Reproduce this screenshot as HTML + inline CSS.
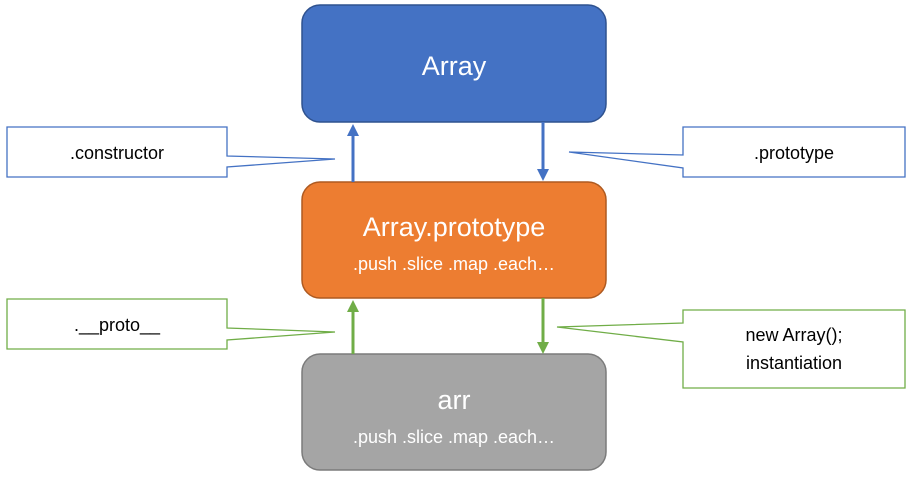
<!DOCTYPE html>
<html><head><style>body{margin:0;background:#fff}</style></head><body>
<svg width="914" height="477" xmlns="http://www.w3.org/2000/svg" font-family="Liberation Sans, sans-serif">
<defs>
<marker id="ab" markerWidth="8" markerHeight="8" refX="4" refY="4" orient="auto" markerUnits="userSpaceOnUse"><path d="M0,0 L8,4 L0,8z" fill="#4472C4"/></marker>
</defs>
<rect x="302" y="5" width="304" height="117" rx="18" fill="#4472C4" stroke="#2F528F" stroke-width="1.5"/>
<text x="454" y="75" font-size="27" fill="#fff" text-anchor="middle">Array</text>
<rect x="302" y="182" width="304" height="116" rx="18" fill="#ED7D31" stroke="#AE5A21" stroke-width="1.5"/>
<text x="454" y="236" font-size="27" fill="#fff" text-anchor="middle">Array.prototype</text>
<text x="454" y="270" font-size="18" fill="#fff" text-anchor="middle">.push .slice .map .each…</text>
<rect x="302" y="354" width="304" height="116" rx="18" fill="#A5A5A5" stroke="#7B7B7B" stroke-width="1.5"/>
<text x="454" y="409" font-size="27" fill="#fff" text-anchor="middle">arr</text>
<text x="454" y="443" font-size="18" fill="#fff" text-anchor="middle">.push .slice .map .each…</text>
<!-- arrows -->
<line x1="353" y1="182" x2="353" y2="134" stroke="#4472C4" stroke-width="3"/>
<path d="M347,136 L353,124 L359,136z" fill="#4472C4"/>
<line x1="543" y1="122" x2="543" y2="170" stroke="#4472C4" stroke-width="3"/>
<path d="M537,169 L543,181 L549,169z" fill="#4472C4"/>
<line x1="353" y1="354" x2="353" y2="310" stroke="#70AD47" stroke-width="3"/>
<path d="M347,312 L353,300 L359,312z" fill="#70AD47"/>
<line x1="543" y1="298" x2="543" y2="343" stroke="#70AD47" stroke-width="3"/>
<path d="M537,342 L543,354 L549,342z" fill="#70AD47"/>
<!-- callouts -->
<path d="M7,127 H227 V156 L335,159 L227,167 V177 H7z" fill="#fff" stroke="#4472C4" stroke-width="1.3"/>
<text x="117" y="159" font-size="18" text-anchor="middle">.constructor</text>
<path d="M683,127 H905 V177 H683 V168 L569,152 L683,155z" fill="#fff" stroke="#4472C4" stroke-width="1.3"/>
<text x="794" y="159" font-size="18" text-anchor="middle">.prototype</text>
<path d="M7,299 H227 V328 L335,332 L227,340 V349 H7z" fill="#fff" stroke="#70AD47" stroke-width="1.3"/>
<text x="117" y="331" font-size="18" text-anchor="middle">.__proto__</text>
<path d="M683,310 H905 V388 H683 V342 L557,327 L683,323z" fill="#fff" stroke="#70AD47" stroke-width="1.3"/>
<text x="794" y="341" font-size="18" text-anchor="middle">new Array();</text>
<text x="794" y="369" font-size="18" text-anchor="middle">instantiation</text>
</svg>
</body></html>
